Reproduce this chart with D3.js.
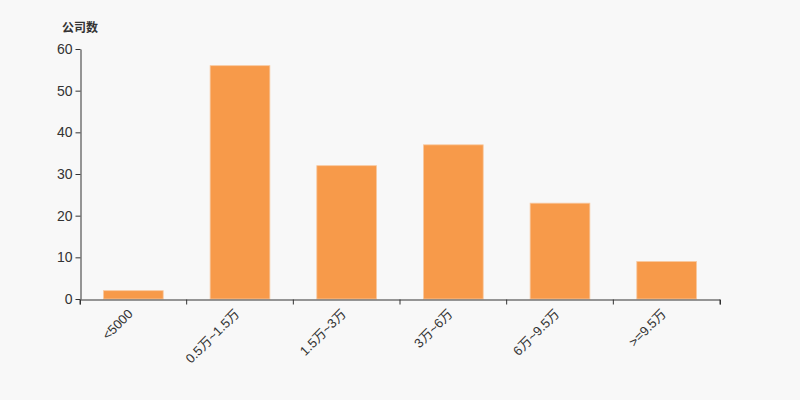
<!DOCTYPE html>
<html><head><meta charset="utf-8">
<script src="https://cdn.jsdelivr.net/npm/d3@7"></script>
<style>body{margin:0;background:#f8f8f8;}svg{display:block;}</style>
</head><body>
<svg id="c" width="800" height="400"></svg>
<script>
const categories = ["<5000","0.5万~1.5万","1.5万~3万","3万~6万","6万~9.5万",">=9.5万"];
const values = [2,56,32,37,23,9];
const yTicks = [0,10,20,30,40,50,60];
const yTitle = "公司数";

const svg = d3.select("#c");
svg.append("rect").attr("width",800).attr("height",400).attr("fill","#f8f8f8");
const font = "Arial,'Liberation Sans','Noto Sans CJK SC',sans-serif";
const x = d3.scaleBand().domain(categories).range([80,720]).paddingInner(0.44).paddingOuter(0.22);
const y = d3.scaleLinear().domain([0,60]).range([299,49]);

svg.selectAll("rect.bar").data(values).enter().append("rect").attr("class","bar")
  .attr("x",(d,i)=>x(categories[i])).attr("width",x.bandwidth())
  .attr("y",d=>y(d)).attr("height",d=>y(0)-y(d))
  .attr("fill","#f79a4a").attr("stroke","#f8c9a0").attr("stroke-width",0.8);

const xb = d3.scaleBand().domain(categories).range([80,720]);
const xa = svg.append("g").attr("transform","translate(0,299.5)")
  .call(d3.axisBottom(xb).tickSize(5).tickSizeOuter(5));
xa.selectAll(".tick line").attr("transform",d=>`translate(${-xb.bandwidth()/2},0)`);
xa.append("line").attr("x1",720).attr("x2",720).attr("y1",0).attr("y2",5).attr("stroke","#333");
xa.select(".domain").attr("stroke","#333");
xa.selectAll(".tick line").attr("stroke","#333");
xa.selectAll(".tick text").attr("font-family",font).attr("font-size",13).attr("fill","#333")
  .attr("text-anchor","end").attr("transform","translate(-3,12) rotate(-45)").attr("dy","0.35em").attr("y",0).attr("x",0);

const ya = svg.append("g").attr("transform","translate(80.5,0)")
  .call(d3.axisLeft(y).tickValues(yTicks).tickSize(5).tickSizeOuter(0).tickPadding(3));
ya.select(".domain").attr("stroke","#333");
ya.selectAll(".tick line").attr("stroke","#333");
ya.selectAll(".tick text").attr("font-family",font).attr("font-size",14).attr("fill","#333");

svg.append("text").attr("x",62).attr("y",32).text(yTitle)
  .attr("font-family","'Noto Sans CJK SC',sans-serif").attr("font-size",12).attr("font-weight","bold").attr("fill","#333");
</script>
</body></html>
